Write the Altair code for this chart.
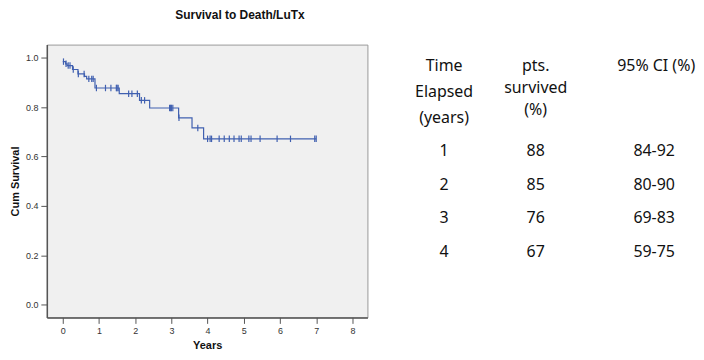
import altair as alt
import numpy as np
import pandas as pd

# ---- Kaplan-Meier curve ----
STEP_TIMES = [0.0, 0.08, 0.12, 0.27, 0.42, 0.60, 0.66, 0.89, 1.56, 2.12, 2.40, 3.20, 3.57, 3.89, 7.0]
STEP_SURV = [0.985, 0.976, 0.969, 0.953, 0.935, 0.925, 0.915, 0.878, 0.855, 0.828, 0.797, 0.757, 0.716, 0.672, 0.672]
CENSOR_TIMES = [0.02, 0.09, 0.15, 0.20, 0.29, 0.43, 0.59, 0.72, 0.80, 0.84, 0.93, 1.18, 1.33,
                1.48, 1.50, 1.53, 1.82, 1.91, 2.06, 2.17, 2.26, 2.95, 2.98, 3.00, 3.04, 3.21,
                3.73, 4.00, 4.07, 4.11, 4.32, 4.46, 4.60, 4.73, 4.87, 4.93, 5.14, 5.20, 5.45,
                5.92, 6.29, 6.96, 7.00]

X_TICKS = [0, 1, 2, 3, 4, 5, 6, 7, 8]
Y_TICKS = [0.0, 0.2, 0.4, 0.6, 0.8, 1.0]

TITLE = "Survival to Death/LuTx"
X_TITLE = "Years"
Y_TITLE = "Cum Survival"

# ---- side table ----
HEAD_TIME = ["Time", "Elapsed", "(years)"]
HEAD_PCT = ["pts.", "survived", "(%)"]
HEAD_CI = ["95% CI (%)"]
TABLE_YEARS = ["1", "2", "3", "4"]
TABLE_PCT = ["88", "85", "76", "67"]
TABLE_CI = ["84-92", "80-90", "69-83", "59-75"]

BLUE = "#4060b0"
AXFONT = "Liberation Sans"
TFONT = "Noto Sans"

steps = pd.DataFrame({"t": STEP_TIMES, "s": STEP_SURV})
idx = np.searchsorted(STEP_TIMES, CENSOR_TIMES, side="right") - 1
cens = pd.DataFrame({"t": CENSOR_TIMES, "s": np.array(STEP_SURV)[idx]})

xs = alt.Scale(domain=[-0.44, 8.415], nice=False, zero=False)
ys = alt.Scale(domain=[-0.052, 1.054], nice=False, zero=False)

x_axis = alt.Axis(title=X_TITLE, values=X_TICKS, format="d", grid=False,
                  domainColor="#555", domainWidth=1.5, tickColor="#555", tickSize=6,
                  labelFont=AXFONT, labelFontSize=9, labelColor="#333", labelPadding=3,
                  titleFont=AXFONT, titleFontSize=11, titleFontWeight="bold",
                  titleColor="#111", titlePadding=4)
y_axis = alt.Axis(title=Y_TITLE, values=Y_TICKS, format=".1f", grid=False,
                  domainColor="#555", domainWidth=1.5, tickColor="#555", tickSize=6,
                  labelFont=AXFONT, labelFontSize=9, labelColor="#333", labelPadding=3,
                  titleFont=AXFONT, titleFontSize=11, titleFontWeight="bold",
                  titleColor="#111", titlePadding=5)

line = alt.Chart(steps).mark_line(interpolate="step-after", color=BLUE, strokeWidth=1.2).encode(
    x=alt.X("t:Q", scale=xs, axis=x_axis),
    y=alt.Y("s:Q", scale=ys, axis=y_axis),
)
marks = alt.Chart(cens).mark_point(shape="M0,-1L0,1", size=42, color=BLUE, strokeWidth=1.2,
                                   filled=False, opacity=1).encode(
    x=alt.X("t:Q", scale=xs),
    y=alt.Y("s:Q", scale=ys),
)
left = alt.layer(line, marks).properties(
    width=322, height=274,
    view=alt.ViewBackground(fill="#f0f0f0", stroke="#999", strokeWidth=1),
)

# ---- table chart ----
n = len(TABLE_YEARS)
body = pd.DataFrame({
    "col": [0] * n + [1] * n + [2] * n,
    "row": list(range(1, n + 1)) * 3,
    "txt": TABLE_YEARS + TABLE_PCT + TABLE_CI,
})
tx = alt.Scale(domain=[0, 1, 2], range=[53, 145, 264])
ty = alt.Scale(domain=[0, 1, 4], range=[14, 107, 208])

body_layer = alt.Chart(body).mark_text(font=TFONT, fontSize=16, color="#111", align="center",
                                       baseline="middle").encode(
    x=alt.X("col:Q", scale=tx, axis=None),
    y=alt.Y("row:Q", scale=ty, axis=None),
    text="txt:N",
)


def head_layer(lines, col, lh, dx=0):
    df = pd.DataFrame({"col": [col], "row": [0], "txt": ["\n".join(lines)]})
    return alt.Chart(df).mark_text(font=TFONT, fontSize=16, color="#111", align="center",
                                   baseline="top", lineBreak="\n", lineHeight=lh, dx=dx).encode(
        x=alt.X("col:Q", scale=tx, axis=None),
        y=alt.Y("row:Q", scale=ty, axis=None),
        text="txt:N",
    )


right = alt.layer(
    body_layer,
    head_layer(HEAD_TIME, 0, 26),
    head_layer(HEAD_PCT, 1, 22),
    head_layer(HEAD_CI, 2, 22, dx=2),
).properties(width=305, height=274,
             view=alt.ViewBackground(stroke="transparent", fill="transparent"))

chart = alt.hconcat(left, right, spacing=22).properties(
    title=alt.TitleParams(TITLE, anchor="start", dx=167, font=AXFONT, fontSize=12,
                          fontWeight="bold", color="#111", offset=22),
    padding={"left": 0, "top": 0, "right": 0, "bottom": 0},
    background="white",
)

chart.save("out.html", embed_options={"renderer": "svg", "actions": False})
